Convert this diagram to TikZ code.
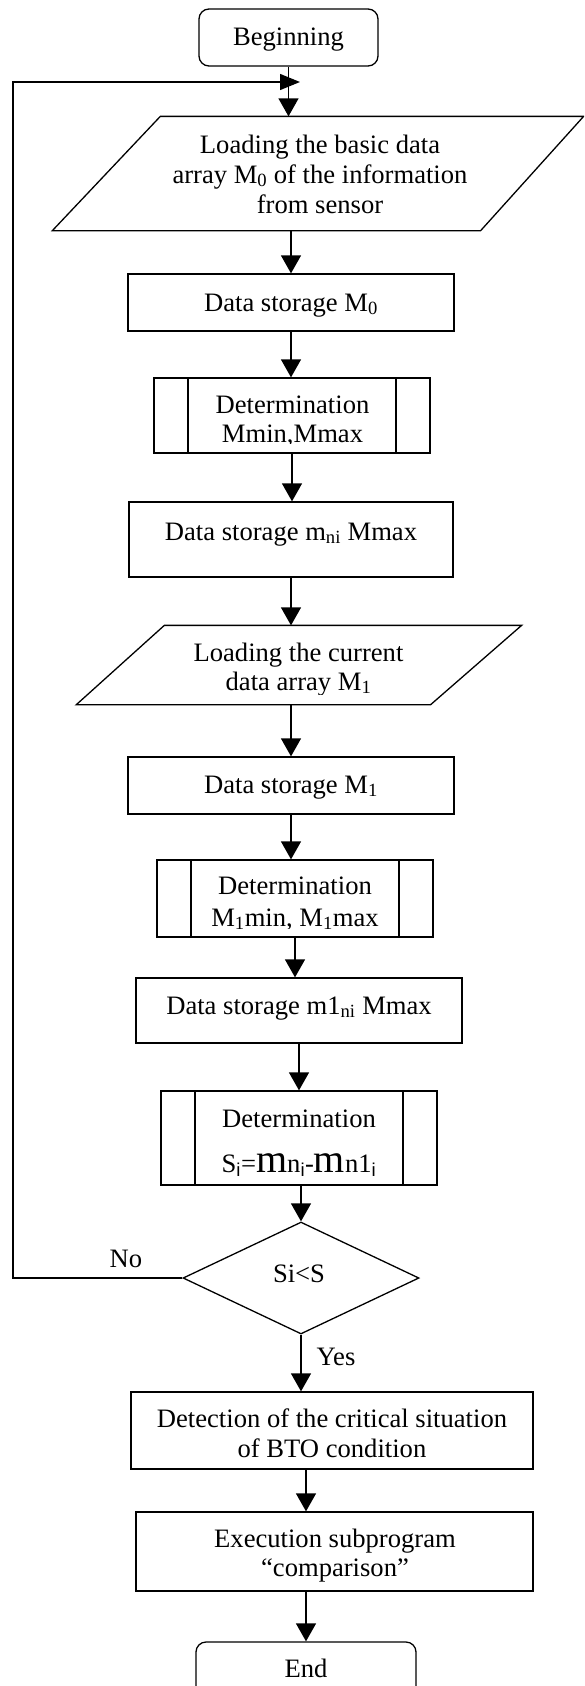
\documentclass[tikz,border=0pt]{standalone}
\usepackage{fontspec}
\setmainfont{Liberation Serif}
\newfontfamily\subsans{Liberation Sans}
\usetikzlibrary{arrows.meta,calc,shapes.geometric}
% enlarged letter m and sans-serif index i used in the difference formula
\newcommand\Mbig{{\fontsize{40}{30}\selectfont m}}
\newcommand\isub{\textsubscript{\subsans i}}
\begin{document}
\begin{tikzpicture}[x=1pt,y=-1pt,line width=1.3pt,
  every node/.style={font=\fontsize{26.6}{30}\selectfont},
  box/.style={draw,rectangle,inner sep=0pt},
  term/.style={box,rounded corners=10pt},
  ghost/.style={rectangle,inner sep=0pt},
  dproc/.style={box,path picture={
      \draw ([xshift=34pt]path picture bounding box.north west) -- ([xshift=34pt]path picture bounding box.south west)
            ([xshift=-34pt]path picture bounding box.north east) -- ([xshift=-34pt]path picture bounding box.south east);}},
  decide/.style={draw,diamond,inner sep=0pt},
  txt/.style={inner sep=0pt,align=center,anchor=base},
  arr/.style={-{Triangle[length=18pt,width=20pt]}},
  backarr/.style={-{Triangle[length=20pt,width=16pt]}}]

\useasboundingbox (0,0) rectangle (584,1686);
\fill[white] (0,0) rectangle (584,1686);
\clip (0,0) rectangle (584,1686);

% ---------- shapes ----------
\node[term,minimum width=179pt,minimum height=57pt] (beg) at (288.5,37.5) {};
\node[ghost,minimum width=530pt,minimum height=113pt] (p1) at (318,173.5) {};
\draw ($(p1.north west)+(108,0)$) -- (p1.north east) -- ($(p1.south east)+(-103,0)$) -- (p1.south west) -- cycle;
\node[box,minimum width=326pt,minimum height=57pt] (ds0) at (291,302.5) {};
\node[dproc,minimum width=276pt,minimum height=75pt] (d1) at (292,415.5) {};
\node[box,minimum width=324pt,minimum height=75pt] (dsn) at (291,539.5) {};
\node[ghost,minimum width=444pt,minimum height=78pt] (p2) at (299,665) {};
\draw ($(p2.north west)+(88,0)$) -- (p2.north east) -- ($(p2.south east)+(-91,0)$) -- (p2.south west) -- cycle;
\node[box,minimum width=326pt,minimum height=57pt] (ds1) at (291,785.5) {};
\node[dproc,minimum width=276pt,minimum height=77pt] (d2) at (295,898.5) {};
\node[box,minimum width=326pt,minimum height=65pt] (dsm) at (299,1010.5) {};
\node[dproc,minimum width=276pt,minimum height=94pt] (d3) at (299,1138) {};
\node[decide,minimum width=236pt,minimum height=112pt] (dia) at (301,1278) {};
\node[box,minimum width=402pt,minimum height=77pt] (det) at (332,1430.5) {};
\node[box,minimum width=397pt,minimum height=79pt] (exe) at (334.5,1551.5) {};
\node[term,minimum width=220pt,minimum height=60pt] (fin) at (306,1672) {};

% ---------- texts (base anchor sits on the last line) ----------
\node[txt] (begT) at (288.5,45.7) {Beginning};
\node[txt] (p1T) at (320,213) {Loading the basic data\\array M\textsubscript{0} of the information\\from sensor};
\node[txt] (ds0T) at (291,311) {Data storage M\textsubscript{0}};
\begin{scope}
  \clip (150,380) rectangle (440,443.5);
  \node[txt] (d1T) at (292.5,442) {Determination\\[-1pt]Mmin,Mmax};
\end{scope}
\node[txt] (dsnT) at (291,540) {Data storage m\textsubscript{ni} Mmax};
\begin{scope}
  \clip (150,628) rectangle (450,694);
  \node[txt] (p2T) at (298.5,690) {Loading the current\\[-1pt]data array M\textsubscript{1}};
\end{scope}
\node[txt] (ds1T) at (291,793) {Data storage M\textsubscript{1}};
\begin{scope}
  \clip (150,862) rectangle (440,928);
  \node[txt] (d2T) at (295,926) {Determination\\[2pt]M\textsubscript{1}min, M\textsubscript{1}max};
\end{scope}
\node[txt] (dsmT) at (299,1014) {Data storage m1\textsubscript{ni} Mmax};
\node[txt] (d3T) at (299,1172) {Determination\\[15pt]S\isub=\Mbig n\isub-\Mbig n1\isub};
\node[txt] (diaT) at (299,1282) {Si<S};
\node[txt] (noT) at (126,1267) {No};
\node[txt] (yesT) at (336,1365) {Yes};
\node[txt] (detT) at (332,1457) {Detection of the critical situation\\of BTO condition};
\node[txt] (exeT) at (335,1576) {Execution subprogram\\[-1pt]``comparison''};
\node[txt] (finT) at (306,1677) {End};

% ---------- connectors ----------
\coordinate (rail) at (13,82);
\coordinate (looptip) at (300,82);
\draw[arr] (beg.south) -- (beg.south |- p1.north);
\draw[backarr] (dia.west) -| (rail) -- (looptip);
\draw[arr] (ds0.north |- p1.south) -- (ds0.north);
\draw[arr] (ds0.south) -- (ds0.south |- d1.north);
\draw[arr] (d1.south) -- (d1.south |- dsn.north);
\draw[arr] (dsn.south) -- (dsn.south |- p2.north);
\draw[arr] (ds1.north |- p2.south) -- (ds1.north);
\draw[arr] (ds1.south) -- (ds1.south |- d2.north);
\draw[arr] (d2.south) -- (d2.south |- dsm.north);
\draw[arr] (dsm.south) -- (dsm.south |- d3.north);
\draw[arr] (dia.north |- d3.south) -- (dia.north);
\draw[arr] (dia.south) -- (dia.south |- det.north);
\draw[arr] (fin.north |- det.south) -- (fin.north |- exe.north);
\draw[arr] (fin.north |- exe.south) -- (fin.north);
\end{tikzpicture}
\end{document}
